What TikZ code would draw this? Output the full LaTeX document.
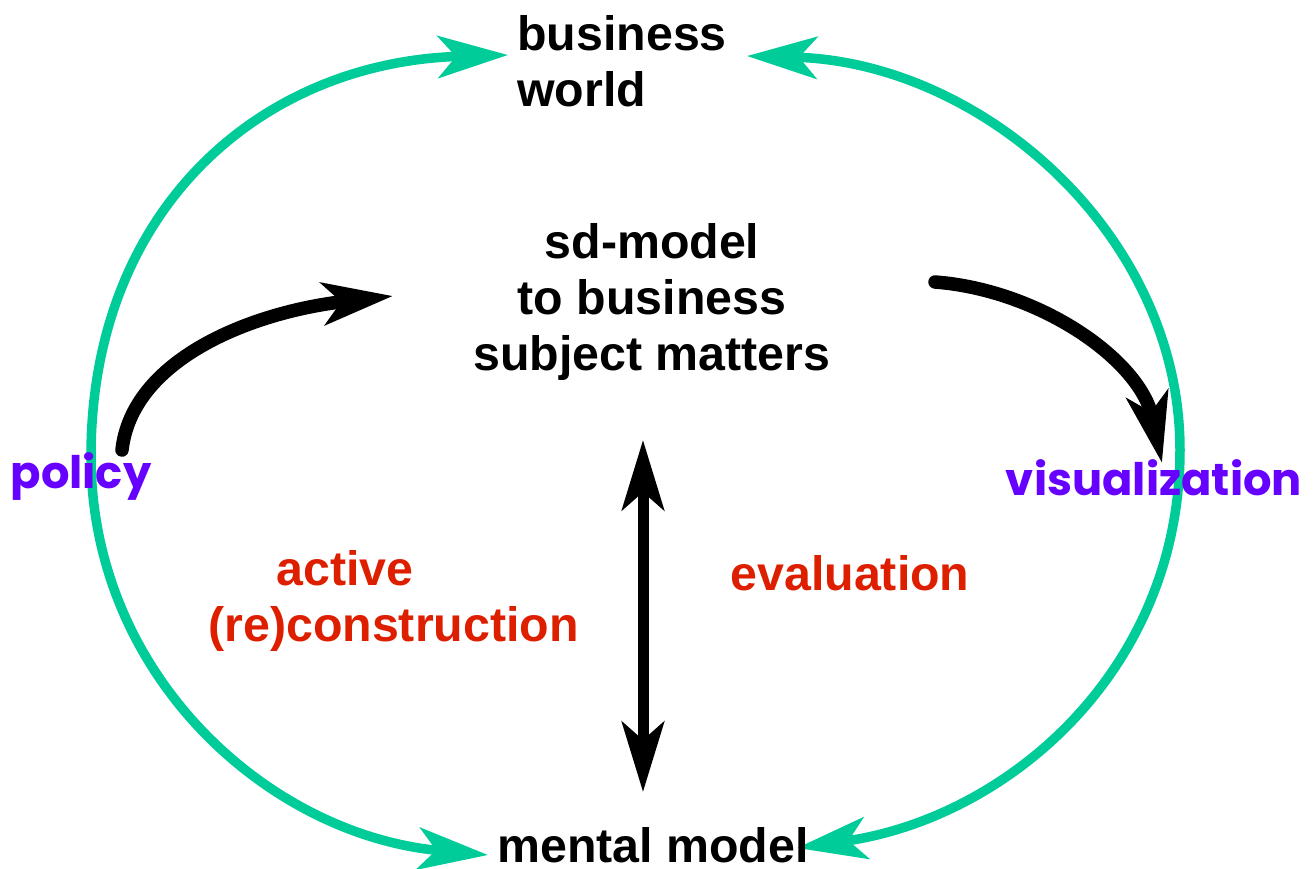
\documentclass[tikz,border=0pt]{standalone}
\usepackage{fontspec}
\setmainfont{Liberation Sans}
\newfontfamily\handfont{Poppins}
\usetikzlibrary{arrows.meta}
\definecolor{cyclegreen}{HTML}{00CC99}
\definecolor{handviolet}{HTML}{6600FF}
\definecolor{stepred}{HTML}{DD1F00}
\tikzset{
  Fat/.tip={Stealth[length=1.4cm,width=.84cm,inset=.36cm]},
  cyclearc/.style={draw=cyclegreen,line width=.19cm,Fat-Fat},
  flow/.style={draw=black,line width=.27cm,line cap=round,-Fat},
  twoway/.style={draw=black,line width=.22cm,Fat-Fat},
  boldtext/.style={font=\fontsize{27.5}{32}\selectfont\bfseries,inner sep=0pt},
  redtext/.style={boldtext,text=stepred},
  handtext/.style={font=\handfont\fontsize{25.5}{30}\selectfont\bfseries,text=handviolet,inner sep=0pt}
}
\begin{document}
\begin{tikzpicture}[x=0.02cm,y=-0.02cm]
  \useasboundingbox[fill=white] (0,0) rectangle (1313,869);
  % green cycle, left and right half
  \draw[cyclearc] (488,855) .. controls (269,835) and (91,676) .. (91,456)
                  .. controls (91,210) and (260,62) .. (508,55);
  \draw[cyclearc] (747,56) .. controls (980,62) and (1180,233) .. (1180,450)
                  .. controls (1180,670) and (1008,818) .. (797,848);
  % texts
  \node[boldtext,align=left,anchor=north west] (world) at (517,15) {business\\world};
  \node[boldtext,align=center,anchor=north] (model) at (652,223) {sd-model\\to business\\subject matters};
  \node[boldtext,anchor=base] (mental) at (653,862) {mental model};
  \node[redtext,align=left,anchor=north west] (construct) at (208,550) {\hspace*{1.36cm}active\\(re)construction};
  \node[redtext,anchor=base] (evaluation) at (850,590) {evaluation};
  \node[handtext,anchor=base] (policy) at (81,488) {policy};
  \node[handtext,anchor=base] (visual) at (1154,495) {visualization};
  % black arrows
  \coordinate (policyout) at (122,450);
  \coordinate (modelin) at (393,296);
  \coordinate (modelout) at (935,282);
  \coordinate (visualin) at (1162,463);
  \coordinate (modelbottom) at (643,440);
  \coordinate (mentaltop) at (643,792);
  \draw[flow] (policyout) .. controls (132,360) and (250,312) .. (modelin);
  \draw[flow] (modelout) .. controls (1040,290) and (1140,360) .. (visualin);
  \draw[twoway] (modelbottom) -- (mentaltop);
\end{tikzpicture}
\end{document}
